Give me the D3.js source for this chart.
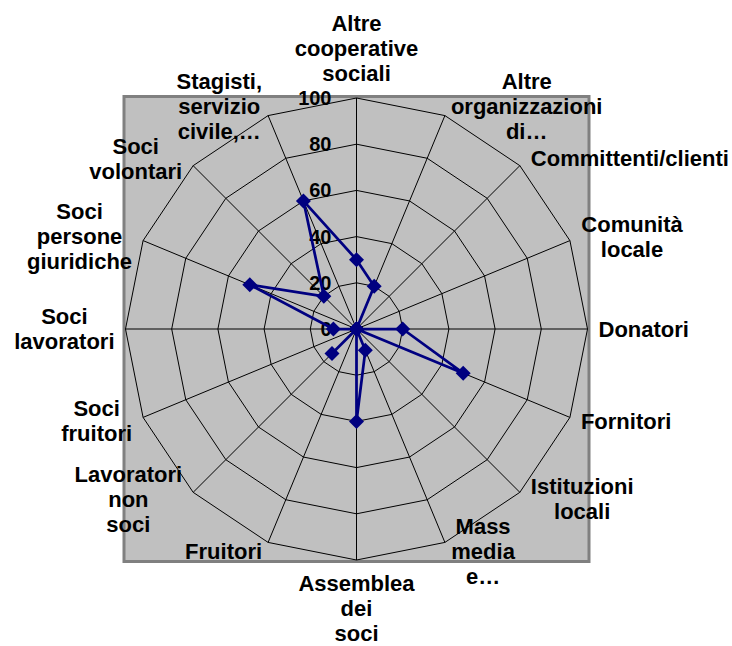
<!DOCTYPE html>
<html>
<head>
<meta charset="utf-8">
<script src="https://cdn.jsdelivr.net/npm/d3@7"></script>
<style>
  body { margin: 0; background: #fff; }
  text { font-family: "Liberation Sans", Arial, sans-serif; font-weight: bold; fill: #000; }
</style>
</head>
<body>
<div class="chart"></div>
<script>
// categories clockwise from the top, "\n" marks a line break in the label
const categories = [
  'Altre\ncooperative\nsociali',
  'Altre\norganizzazioni\ndi…',
  'Committenti/clienti',
  'Comunità\nlocale',
  'Donatori',
  'Fornitori',
  'Istituzioni\nlocali',
  'Mass\nmedia\ne…',
  'Assemblea\ndei\nsoci',
  'Fruitori',
  'Lavoratori\nnon\nsoci',
  'Soci\nfruitori',
  'Soci\nlavoratori',
  'Soci\npersone\ngiuridiche',
  'Soci\nvolontari',
  'Stagisti,\nservizio\ncivile,…'
];
const values = [30, 20, 0, 0, 20, 50, 0, 10, 40, 0, 15, 0, 10, 50, 20, 60];
const ticks = [0, 20, 40, 60, 80, 100];

const width = 732;
const height = 646;
const cx = 356.5;
const cy = 329;
const radius = 231;
const lineGap = 25;

const svg = d3
  .select('.chart')
  .append('svg')
  .attr('width', width)
  .attr('height', height);

const angle = d3.scaleLinear().domain([0, categories.length]).range([0, 2 * Math.PI]);
const r = d3.scaleLinear().domain([0, 100]).range([0, radius]);

// plot area
svg
  .append('rect')
  .attr('x', cx - radius - 1.5)
  .attr('y', cy - radius - 1.5)
  .attr('width', 2 * radius + 3)
  .attr('height', 2 * radius + 3)
  .attr('fill', '#c0c0c0')
  .attr('stroke', '#808080')
  .attr('stroke-width', 3);

const g = svg.append('g').attr('transform', 'translate(' + cx + ',' + cy + ')');

const ring = d3
  .lineRadial()
  .angle((d, i) => angle(i))
  .radius(d => r(d))
  .curve(d3.curveLinearClosed);

// rings
g.append('g')
  .selectAll('path')
  .data(ticks.filter(t => t > 0))
  .enter()
  .append('path')
  .attr('d', t => ring(categories.map(() => t)))
  .attr('fill', 'none')
  .attr('stroke', '#000')
  .attr('stroke-width', 1);

// spokes
g.append('g')
  .selectAll('line')
  .data(categories)
  .enter()
  .append('line')
  .attr('x1', 0)
  .attr('y1', 0)
  .attr('x2', (d, i) => d3.pointRadial(angle(i), r(100))[0])
  .attr('y2', (d, i) => d3.pointRadial(angle(i), r(100))[1])
  .attr('stroke', '#000')
  .attr('stroke-width', 1);

// tick labels along the top spoke
g.append('g')
  .selectAll('text')
  .data(ticks)
  .enter()
  .append('text')
  .attr('x', -25)
  .attr('y', t => -r(t))
  .attr('text-anchor', 'end')
  .attr('dominant-baseline', 'central')
  .style('font-size', '20px')
  .text(t => t);

// series
g.append('path')
  .attr('d', ring(values))
  .attr('fill', 'none')
  .attr('stroke', '#000080')
  .attr('stroke-width', 2.75)
  .attr('stroke-linejoin', 'round');

g.append('g')
  .selectAll('path')
  .data(values)
  .enter()
  .append('path')
  .attr('d', 'M0,-7.5L7.5,0L0,7.5L-7.5,0Z')
  .attr('fill', '#000080')
  .attr('transform', (d, i) => 'translate(' + d3.pointRadial(angle(i), r(d)) + ')');

// category labels
const labels = g
  .append('g')
  .selectAll('g')
  .data(categories)
  .enter()
  .append('g');

labels.each(function(d, i) {
  const lines = d.split('\n');
  const t = d3
    .select(this)
    .append('text')
    .attr('text-anchor', 'middle')
    .style('font-size', '22px');
  t.selectAll('tspan')
    .data(lines)
    .enter()
    .append('tspan')
    .attr('x', 0)
    .attr('y', (l, k) => (k - (lines.length - 1) / 2) * lineGap)
    .attr('dominant-baseline', 'central')
    .text(l => l);

  const a = angle(i);
  const p = d3.pointRadial(a, r(100));
  const s = Math.sin(a);
  const c = Math.cos(a);
  const w = this.getBBox().width;
  const half = ((lines.length - 1) / 2) * lineGap;
  const gap = 11 * Math.min(1, Math.abs(s) / 0.7);
  let x, y;
  if (Math.abs(s) < 1e-6) {
    x = p[0];
    y = c > 0 ? p[1] - 25 - half : p[1] + 23 + half;
  } else {
    x = p[0] + Math.sign(s) * (gap + w / 2);
    y = p[1] - c * 10;
  }
  d3.select(this).attr('transform', 'translate(' + x + ',' + y + ')');
});
</script>
</body>
</html>
